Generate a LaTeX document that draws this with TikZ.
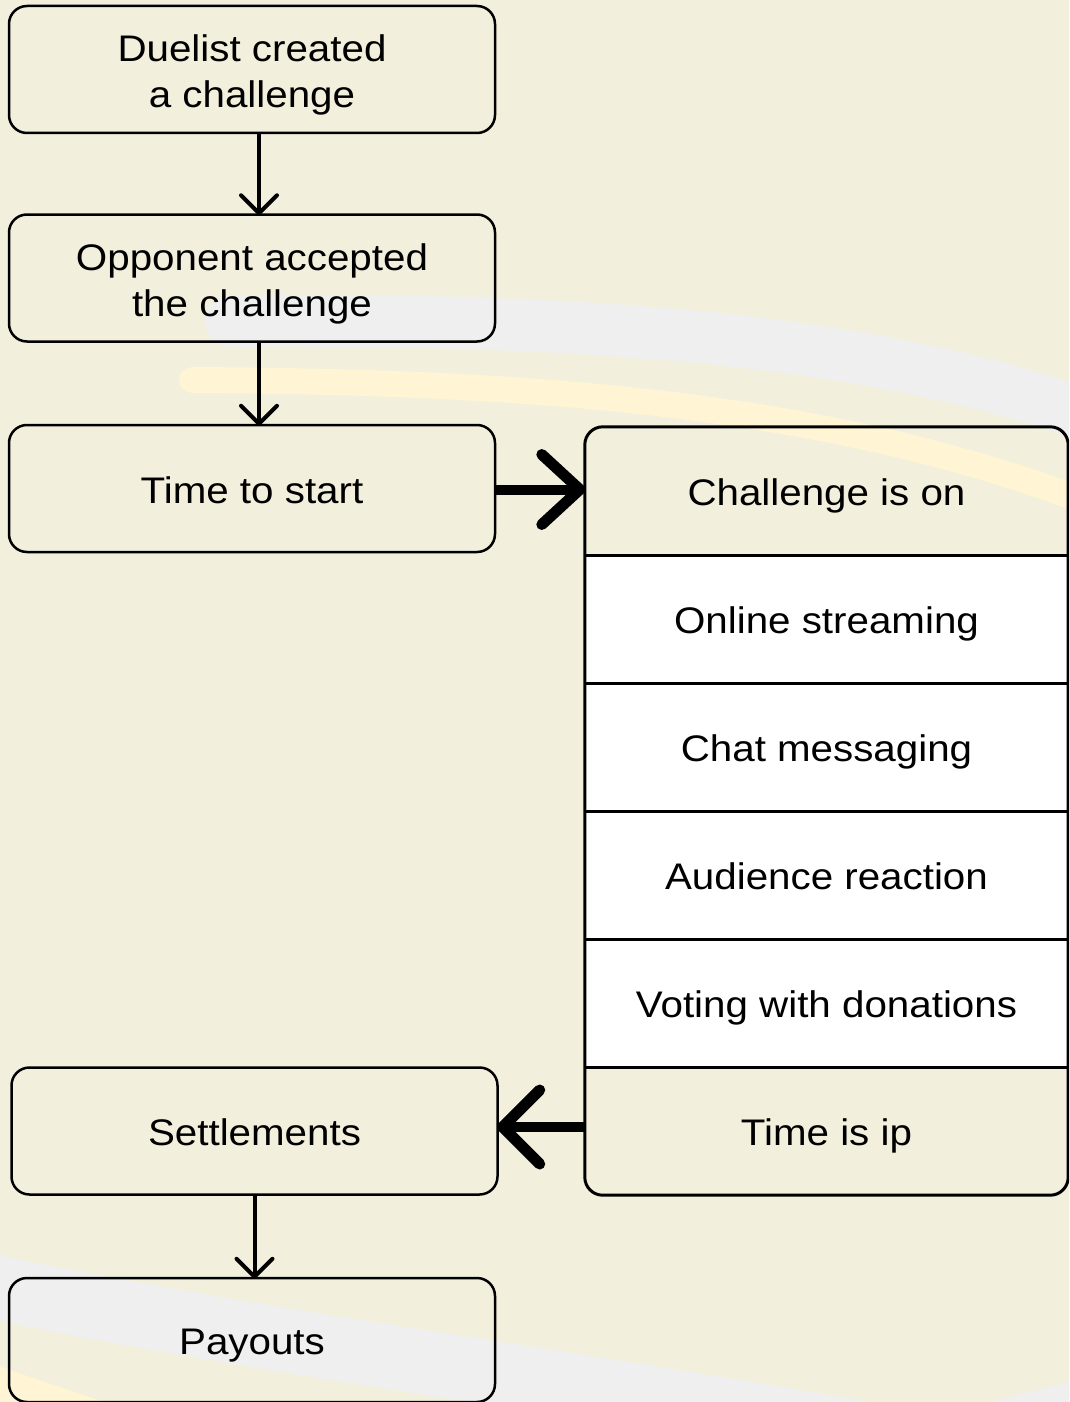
\documentclass[tikz,border=0pt]{standalone}
\usepackage{fontspec}
\setmainfont{Liberation Sans}[FakeStretch=1.09]
\usetikzlibrary{calc}
\definecolor{paper}{RGB}{242,239,220}
\definecolor{swgrey}{RGB}{239,239,239}
\definecolor{swyellow}{RGB}{255,245,212}
\newcommand{\twolines}[2]{\raisebox{-6.3pt}[\height][\depth]{\begin{tabular}{@{}c@{}}#1\\#2\end{tabular}}}
\tikzset{
  box/.style={draw=black, line width=2.5pt, rounded corners=18pt, minimum width=486pt,
    minimum height=127pt, align=center, inner sep=0pt, font=\fontsize{37}{46}\selectfont},
  oneline/.style={text height=30pt, text depth=0.4pt},
  cell/.style={minimum width=483pt, minimum height=128pt, inner sep=0pt,
    font=\fontsize{37}{46}\selectfont, text height=30pt, text depth=0.4pt},
  conn/.style={line width=4pt},
  tipv/.style={line width=4pt, line cap=round, line join=round},
  bigconn/.style={line width=10pt},
  bigtip/.style={line width=11pt, line cap=round, line join=round},
  band/.style={line cap=round},
  divider/.style={line width=3pt}
}
\begin{document}
\begin{tikzpicture}[x=1pt,y=-1pt]
\useasboundingbox (0,0) rectangle (1069,1402);
\clip (0,0) rectangle (1069,1402);
\fill[paper] (0,0) rectangle (1069,1402);
% background swooshes
\draw[band, swgrey, line width=52pt] (231,321) .. controls (600,318) and (880,340) .. (1100,420);
\draw[band, swyellow, line width=26pt] (192,380) .. controls (550,382) and (850,405) .. (1120,515);
\draw[band, swgrey, line width=64pt] (-30,1282) .. controls (250,1342) and (600,1385) .. (900,1440);
\draw[band, swgrey, line width=40pt] (900,1446) -- (1110,1392);
\draw[band, swyellow, line width=36pt] (-40,1372) -- (160,1440);
% left column
\node[box] (n1) at (252,69.5) {\twolines{Duelist created}{a challenge}};
\node[box] (n2) at (252,278) {\twolines{Opponent accepted}{the challenge}};
\node[box, oneline] (n3) at (252,488.5) {Time to start};
\node[box, oneline] (s1) at (254.5,1131) {Settlements};
\node[box, oneline, minimum height=124pt] (p1) at (252,1340) {Payouts};
% right column
\node[cell] (c1) at (826.5,491) {Challenge is on};
\node[cell, fill=white] (c2) at (826.5,619) {Online streaming};
\node[cell, fill=white] (c3) at (826.5,747) {Chat messaging};
\node[cell, fill=white] (c4) at (826.5,875) {Audience reaction};
\node[cell, fill=white] (c5) at (826.5,1003) {Voting with donations};
\node[cell] (c6) at (826.5,1131) {Time is ip};
\draw[line width=3pt, rounded corners=18pt] (c1.north west) rectangle (c6.south east);
\foreach \c in {c1,c2,c3,c4,c5}{
  \draw[divider] (\c.south west) -- (\c.south east);
}
% thin arrows
\coordinate (a1) at ([xshift=7pt]n2.north);
\draw[conn] ([xshift=7pt]n1.south) -- (a1);
\draw[tipv] ($(a1)+(-18,-18)$) -- (a1) -- ($(a1)+(18,-18)$);
\coordinate (a2) at ([xshift=7pt]n3.north);
\draw[conn] ([xshift=7pt]n2.south) -- (a2);
\draw[tipv] ($(a2)+(-18,-18)$) -- (a2) -- ($(a2)+(18,-18)$);
\coordinate (a3) at (s1.south |- p1.north);
\draw[conn] (s1.south) -- (a3);
\draw[tipv] ($(a3)+(-18,-18)$) -- (a3) -- ($(a3)+(18,-18)$);
% thick arrows
\coordinate (t1) at ($(n3.east -| c1.west)+(-5,1)$);
\draw[bigconn] ($(n3.east)+(0,1)$) -- ($(t1)+(-5,0)$);
\draw[bigtip] ($(t1)+(-38,-35)$) -- (t1) -- ($(t1)+(-38,35)$);
\coordinate (t2) at ($(c6.west -| s1.east)+(4,-4)$);
\draw[bigconn] ($(c6.west)+(0,-4)$) -- ($(t2)+(5,0)$);
\draw[bigtip] ($(t2)+(37,-37)$) -- (t2) -- ($(t2)+(37,37)$);
\end{tikzpicture}
\end{document}
